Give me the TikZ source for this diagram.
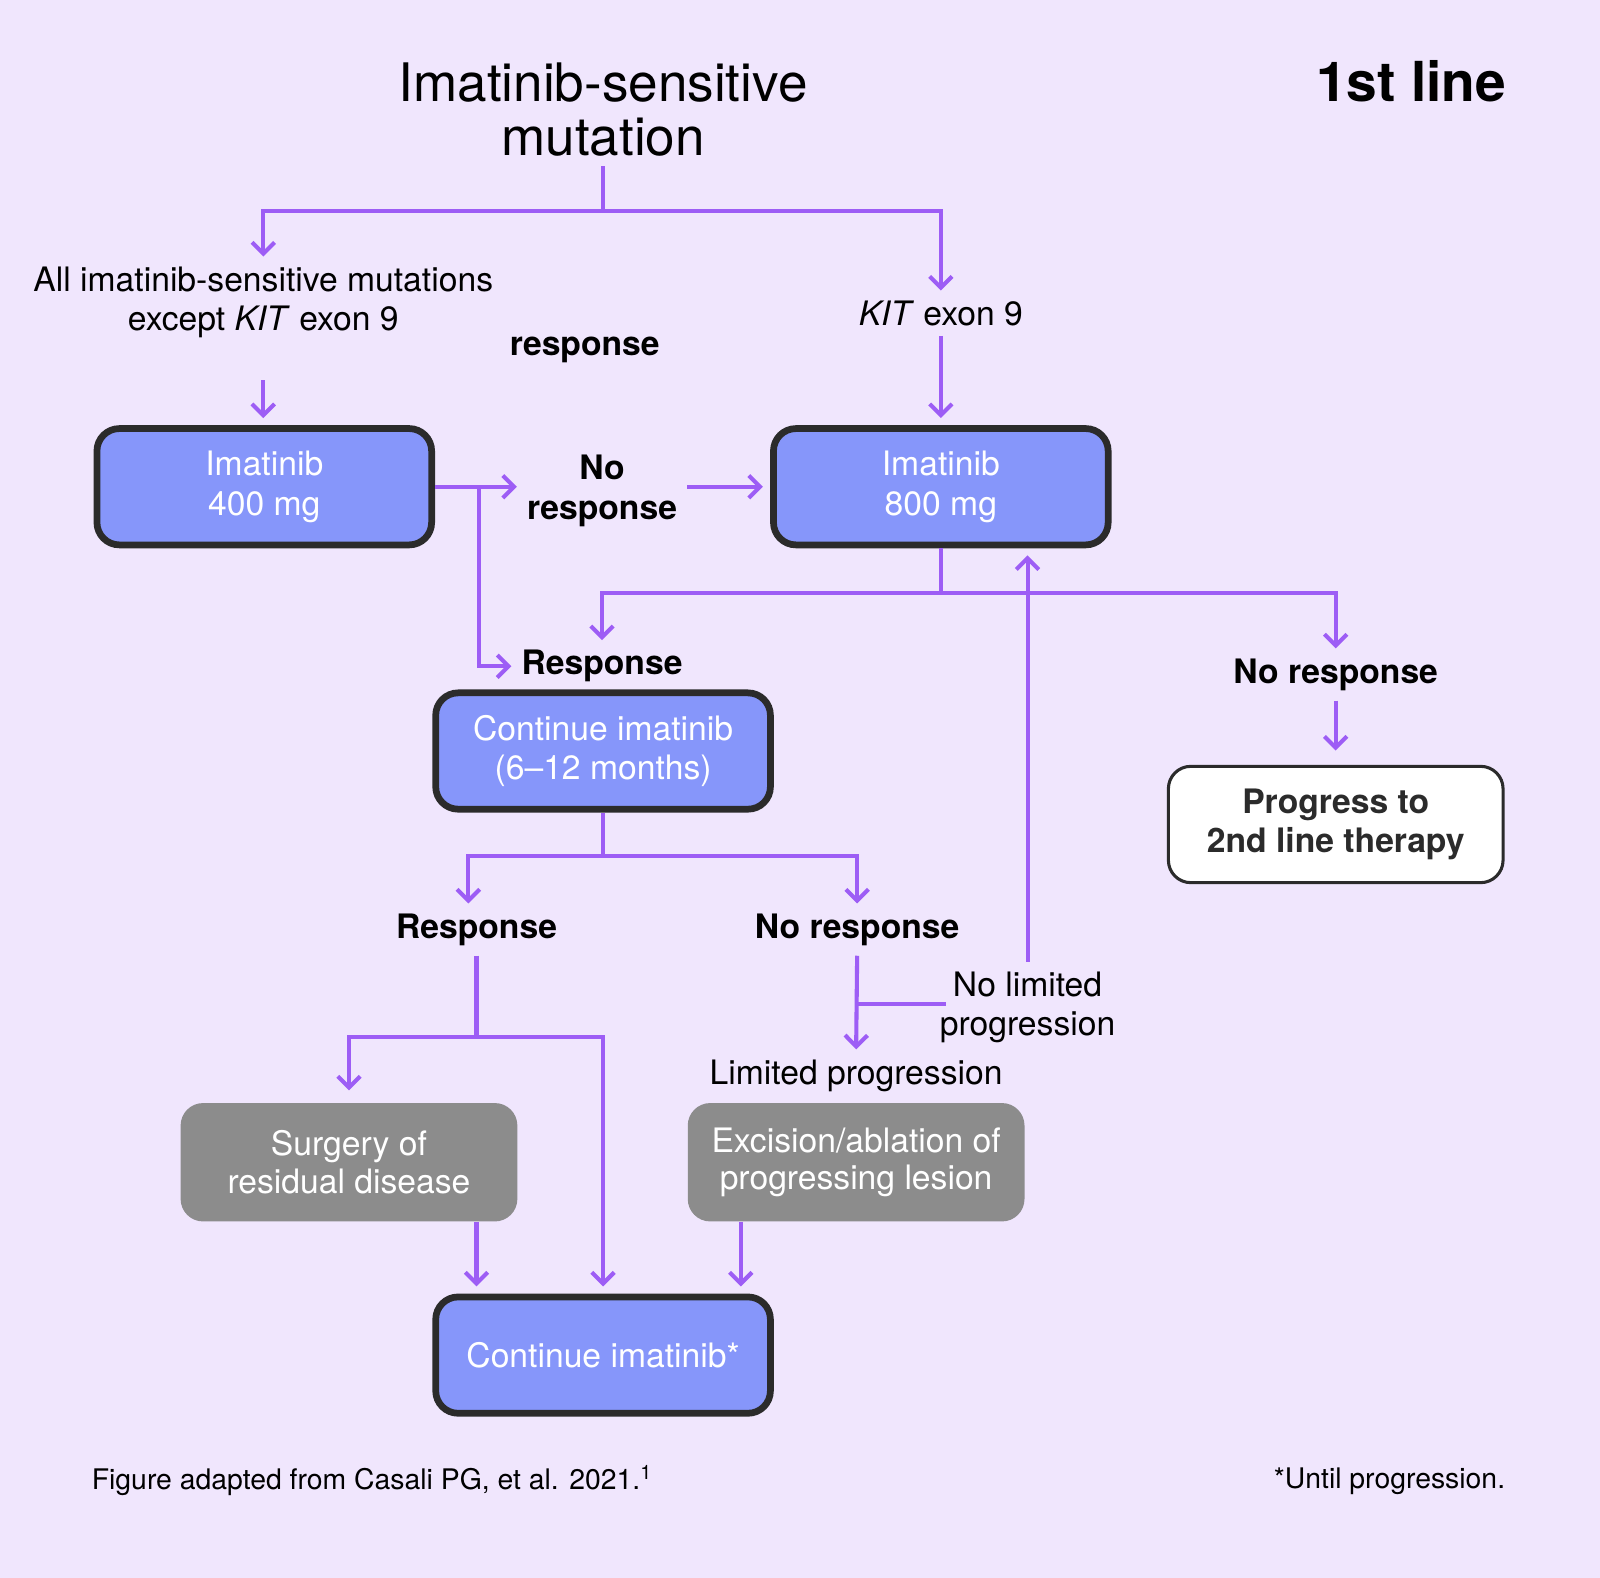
\documentclass[tikz,border=0pt]{standalone}
\usepackage{fontspec}
\setmainfont{TeX Gyre Heros}
\usetikzlibrary{arrows.meta,positioning}

\definecolor{bgpurple}{RGB}{240,230,253}
\definecolor{arrowpurple}{RGB}{157,93,245}
\definecolor{boxblue}{RGB}{134,150,250}
\definecolor{boxedge}{RGB}{43,43,43}
\definecolor{boxgray}{RGB}{140,140,140}

\begin{document}
\begin{tikzpicture}[x=0.5pt,y=-0.5pt,
  lbl/.style={inner sep=0pt,outer sep=5pt,align=center,font=\fontsize{16.5}{19}\selectfont},
  boldlbl/.style={lbl,font=\fontsize{16.5}{19.5}\selectfont\bfseries},
  note/.style={inner sep=0pt,outer sep=0pt,font=\fontsize{13.9}{16}\selectfont},
  drug/.style={draw=boxedge,line width=3.3pt,fill=boxblue,rounded corners=11pt,text=white,align=center,
    minimum width=164pt,minimum height=57pt,inner sep=0pt,font=\fontsize{16.5}{19.5}\selectfont},
  proc/.style={fill=boxgray,rounded corners=11pt,text=white,align=center,
    minimum width=165pt,minimum height=58pt,inner sep=0pt,font=\fontsize{16.5}{18.5}\selectfont},
  nextbox/.style={draw=boxedge,line width=1.5pt,fill=white,rounded corners=11pt,text=boxedge,align=center,
    minimum width=164pt,minimum height=57pt,inner sep=0pt,font=\fontsize{16.5}{19}\selectfont\bfseries},
  link/.style={draw=arrowpurple,line width=2pt},
  flow/.style={link,-{Straight Barb[length=5.5pt,width=11pt]}},
  tobox/.style={flow,shorten >=3.5pt}]

  % background
  \fill[bgpurple] (0,0) rectangle (1568,1546);

  % heading
  \node[lbl,font=\fontsize{26}{26.5}\selectfont] (title) at (591,107) {Imatinib-sensitive\\mutation};
  \node[note,anchor=east,font=\fontsize{27}{30}\selectfont\bfseries] (linetag) at (1476,80) {1st line};

  % labels and boxes
  \node[lbl] (allmut) at (258,296) {All imatinib-sensitive mutations\\except \textit{KIT} exon 9};
  \node[lbl] (kit) at (922,307) {\textit{KIT} exon 9};
  \node[boldlbl] (stray) at (573,343) {response};
  \node[drug] (imat400) at (259,477) {Imatinib\\400 mg};
  \node[drug] (imat800) at (922,477) {Imatinib\\800 mg};
  \node[boldlbl] (noresp1) at (590,481) {No\\response};
  \node[boldlbl] (resp1) at (590,653) {Response};
  \node[boldlbl] (noresp2) at (1309,661) {No response};
  \node[nextbox] (secline) at (1309,808) {Progress to\\2nd line therapy};
  \node[drug] (cont) at (591,736) {Continue imatinib\\(6--12 months)};
  \node[boldlbl] (resp2) at (467,911) {Response};
  \node[boldlbl] (noresp3) at (840,911) {No response};
  \node[lbl] (nolim) at (1007,987) {No limited\\progression};
  \node[lbl] (limprog) at (839,1054) {Limited progression};
  \node[proc] (surg) at (342,1139) {Surgery of\\residual disease};
  \node[proc] (excis) at (839,1139) {Excision/ablation of\\progressing lesion};
  \node[drug] (final) at (591,1328) {Continue imatinib*};

  % footnotes
  \node[note,anchor=west] (credit) at (90,1451) {Figure adapted from Casali PG, et al. 2021.\textsuperscript{1}};
  \node[note,anchor=east] (until) at (1475,1452) {*Until progression.};

  % junctions
  \coordinate (split1) at (591,207);
  \coordinate (split2) at (922,581);
  \coordinate (split3) at (591,839);
  \coordinate (split4) at (467,1016);
  \coordinate (fork1) at (469,477);
  \coordinate (fork2) at (840,984);

  % connectors
  \draw[link] (title.south) -- (split1);
  \draw[flow] (split1) -| (allmut.north);
  \draw[flow] (split1) -| (kit.north);
  \draw[tobox] ([yshift=-16pt]allmut.south) -- (allmut.south |- imat400.north);
  \draw[tobox] (kit.south) -- (imat800.north);
  \draw[flow] (imat400.east) -- (imat400.east -| noresp1.west);
  \draw[tobox] (noresp1.east |- imat800.west) -- (imat800.west);
  \draw[flow] (fork1) |- (resp1.west);
  \draw[link] (imat800.south) -- (split2);
  \draw[flow] (split2) -| (resp1.north);
  \draw[flow] (split2) -| (noresp2.north);
  \draw[flow,shorten >=7pt] (noresp2.south) -- (secline.north);
  \draw[link] (cont.south) -- (split3);
  \draw[flow] (split3) -| ([xshift=-4pt]resp2.north);
  \draw[flow] (split3) -| (noresp3.north);
  \draw[link] (resp2.south) -- (split4);
  \draw[flow,shorten >=6pt] (split4) -| (surg.north);
  \draw[tobox] (split4) -| (final.north);
  \draw[flow] (noresp3.south) -- (limprog.north);
  \draw[link] (fork2) -- ([xshift=8pt]nolim.west |- fork2);
  \draw[tobox] (nolim.north) -- (nolim.north |- imat800.south);
  \draw[tobox] (surg.south -| split4) -- (final.north -| split4);
  \draw[tobox] ([xshift=-56.5pt]excis.south) -- ([xshift=-56.5pt]excis.south |- final.north);
\end{tikzpicture}
\end{document}
